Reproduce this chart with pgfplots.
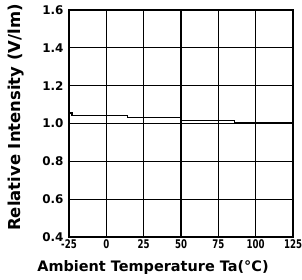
\documentclass[border=0pt]{standalone}
\usepackage{pgfplots}
\pgfplotsset{compat=1.18}
\usepackage{fontspec}
\setmainfont{DejaVu Sans}
\begin{document}
\begin{tikzpicture}
\begin{axis}[
  name=ax,
  scale only axis,
  width=224bp, height=227bp,
  xmin=-25, xmax=125, ymin=0.4, ymax=1.6,
  xtick={-25,0,25,50,75,100,125},
  ytick={0.4,0.6,0.8,1.0,1.2,1.4,1.6},
  yticklabel style={/pgf/number format/fixed, /pgf/number format/fixed zerofill, /pgf/number format/precision=1},
  /pgf/number format/assume math mode=true,
  yticklabel style={font=\bfseries\fontsize{12}{13}\selectfont, xshift=-2bp},
  xticklabel style={font=\bfseries\fontsize{12}{13}\selectfont, xscale=0.72, yshift=1bp},
  grid=major,
  major grid style={black, line width=1.2pt},
  axis line style={black, line width=1.3pt},
  major tick length=0pt,
  xlabel={Ambient Temperature Ta(°C)},
  ylabel={Relative Intensity (V/lm)},
  xlabel style={font=\bfseries\fontsize{14.5}{16}\selectfont, at={([xshift=-28bp,yshift=-31bp]axis description cs:0.5,0)}, anchor=center},
  ylabel style={font=\bfseries\fontsize{16.5}{18}\selectfont, at={([xshift=-53bp,yshift=6bp]axis description cs:0,0.5)}, anchor=center},
]
\addplot[black, line width=1.2pt, const plot] coordinates {
(-25,1.055) (-23,1.044) (14,1.030) (50,1.016) (86,1.004) (125,1.004)
};
\end{axis}
\path (ax.south west) ++(-69bp,-43bp) coordinate (a);
\path (ax.north east) ++(9bp,10bp) coordinate (b);
\pgfresetboundingbox
\useasboundingbox (a) rectangle (b);
\end{tikzpicture}
\end{document}
